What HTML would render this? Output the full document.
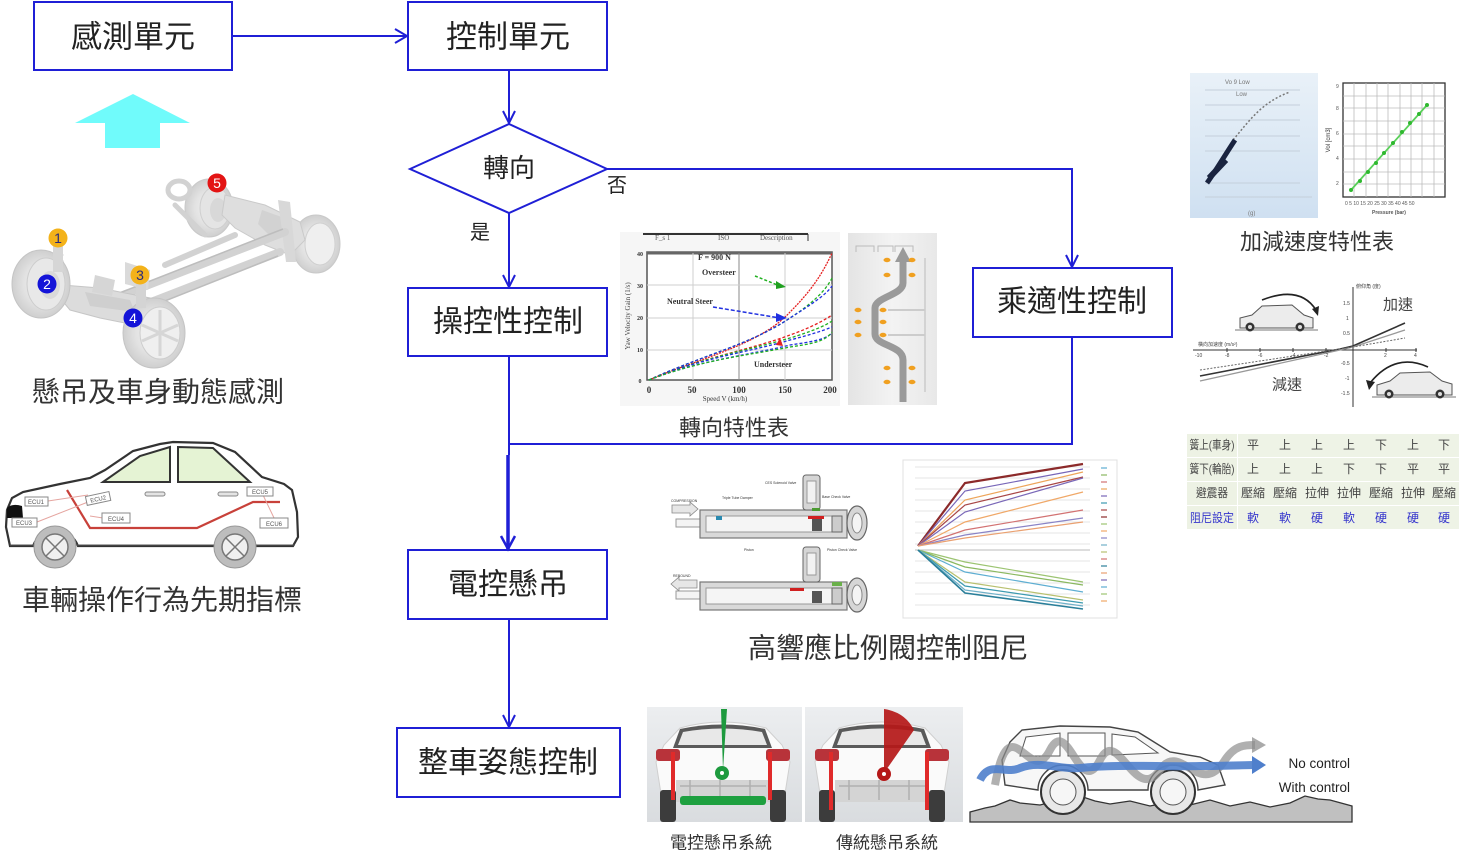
<!DOCTYPE html>
<html>
<head>
<meta charset="utf-8">
<style>
  html,body{margin:0;padding:0;background:#ffffff;}
  body{width:1478px;height:865px;overflow:hidden;}
  svg{display:block;}
  .cjk{font-family:"Liberation Sans","Noto Sans CJK TC","Noto Sans CJK SC",sans-serif;}
  .lat{font-family:"Liberation Sans",sans-serif;}
  .ser{font-family:"Liberation Serif",serif;}
</style>
</head>
<body>
<svg width="1478" height="865" viewBox="0 0 1478 865" xmlns="http://www.w3.org/2000/svg">
  <defs>
    <linearGradient id="accBg" x1="0" y1="0" x2="0" y2="1">
      <stop offset="0" stop-color="#e9f1f8"/>
      <stop offset="1" stop-color="#cfe0f1"/>
    </linearGradient>
    <linearGradient id="photoBg" x1="0" y1="0" x2="0" y2="1">
      <stop offset="0" stop-color="#eceef0"/>
      <stop offset="1" stop-color="#d9dcdf"/>
    </linearGradient>
    <linearGradient id="laneBg" x1="0" y1="0" x2="1" y2="0">
      <stop offset="0" stop-color="#e4e4e4"/>
      <stop offset="0.5" stop-color="#f3f3f3"/>
      <stop offset="1" stop-color="#e8e8e8"/>
    </linearGradient>
    <radialGradient id="wheel" cx="0.5" cy="0.5" r="0.5">
      <stop offset="0" stop-color="#f2f2f2"/>
      <stop offset="0.6" stop-color="#e2e2e2"/>
      <stop offset="1" stop-color="#cfcfcf"/>
    </radialGradient>
  </defs>

  <!-- ================= FLOWCHART ================= -->
  <g fill="none" stroke="#1f1fd6" stroke-width="2">
    <rect x="34" y="2" width="198" height="68"/>
    <rect x="408" y="2" width="199" height="68"/>
    <polygon points="410,169 509,124 607,169 509,213"/>
    <rect x="408" y="288" width="199" height="68"/>
    <rect x="973" y="268" width="199" height="69"/>
    <rect x="408" y="550" width="199" height="69"/>
    <rect x="397" y="728" width="223" height="69"/>

    <line x1="232" y1="36" x2="407" y2="36"/>
    <polyline points="395,29 407,36 395,43"/>
    <line x1="509" y1="70" x2="509" y2="123"/>
    <polyline points="503,111 509,123 515,111"/>
    <line x1="509" y1="213" x2="509" y2="287"/>
    <polyline points="503,275 509,287 515,275"/>
    <polyline points="607,169 1072,169 1072,267"/>
    <polyline points="1066,255 1072,267 1078,255"/>
    <polyline points="1072,337 1072,444 509,444"/>
    <line x1="509" y1="356" x2="509" y2="455"/>
    <line x1="508" y1="455" x2="508" y2="549" stroke-width="3.5"/>
    <polyline points="501,536 508,549 515,536" stroke-width="2.5"/>
    <line x1="509" y1="619" x2="509" y2="727"/>
    <polyline points="503,715 509,727 515,715"/>
  </g>

  <g class="cjk" fill="#222" text-anchor="middle" dominant-baseline="central">
    <text x="133" y="37" font-size="31">感測單元</text>
    <text x="508" y="37" font-size="31">控制單元</text>
    <text x="509" y="168" font-size="26">轉向</text>
    <text x="508" y="322" font-size="30">操控性控制</text>
    <text x="1072" y="302" font-size="30">乘適性控制</text>
    <text x="508" y="585" font-size="30">電控懸吊</text>
    <text x="508" y="763" font-size="30">整車姿態控制</text>
    <text x="480" y="233" font-size="20">是</text>
    <text x="617" y="186" font-size="20">否</text>

    <text x="158" y="392" font-size="28" fill="#333">懸吊及車身動態感測</text>
    <text x="162" y="600" font-size="28" fill="#333">車輛操作行為先期指標</text>
    <text x="734" y="428" font-size="22" fill="#333">轉向特性表</text>
    <text x="1317" y="242" font-size="22" fill="#333">加減速度特性表</text>
    <text x="888" y="648" font-size="28" fill="#333">高響應比例閥控制阻尼</text>
    <text x="721" y="843" font-size="17" fill="#333">電控懸吊系統</text>
    <text x="887" y="843" font-size="17" fill="#333">傳統懸吊系統</text>
  </g>

  <!-- cyan up arrow -->
  <polygon points="133,94 190,123 160,123 160,148 105,148 105,123 75,123" fill="#70fbfb"/>

  <!-- ================= CHASSIS ================= -->
  <g>
    <!-- rear left wheel -->
    <ellipse cx="209" cy="208" rx="24" ry="29" fill="url(#wheel)" stroke="#c9c9c9"/>
    <ellipse cx="215" cy="208" rx="15" ry="21" fill="#e4e4e4" stroke="#cfcfcf"/>
    <ellipse cx="218" cy="210" rx="8" ry="12" fill="#d8d8d8"/>
    <!-- rear right wheel -->
    <ellipse cx="316" cy="244" rx="24" ry="29" fill="url(#wheel)" stroke="#c9c9c9"/>
    <ellipse cx="320" cy="244" rx="15" ry="21" fill="#efefef" stroke="#d0d0d0"/>
    <!-- rear subframe / diff -->
    <polygon points="225,195 265,205 300,222 305,240 290,255 265,245 235,228 222,215" fill="#dedede" stroke="#cacaca"/>
    <polygon points="262,210 290,220 292,238 270,236 258,224" fill="#d2d2d2"/>
    <polygon points="278,200 290,202 296,262 286,262" fill="#d8d8d8"/>
    <!-- frame -->
    <g stroke="#d2d2d2" stroke-linecap="round" fill="none">
      <line x1="110" y1="300" x2="285" y2="232" stroke-width="8"/>
      <line x1="120" y1="314" x2="280" y2="252" stroke-width="8"/>
      <line x1="165" y1="265" x2="235" y2="235" stroke-width="6"/>
      <path d="M168,190 a11,9 0 1 0 22,0 a11,9 0 1 0 -22,0" stroke-width="5"/>
      <line x1="175" y1="205" x2="205" y2="235" stroke-width="5"/>
    </g>
    <g stroke="#bdbdbd" fill="none" stroke-width="1.5">
      <line x1="112" y1="296" x2="283" y2="229"/>
      <line x1="122" y1="318" x2="278" y2="256"/>
      <path d="M54,252 l8,3 l-8,3 l8,3 l-8,3 l8,3"/>
    </g>
    <!-- front subframe -->
    <polygon points="62,285 100,288 150,298 160,318 140,326 100,318 70,310 60,298" fill="#dcdcdc" stroke="#c6c6c6"/>
    <polygon points="85,292 130,300 135,312 90,306" fill="#cfcfcf"/>
    <polygon points="95,275 115,280 112,296 92,292" fill="#d6d6d6"/>
    <polygon points="125,262 150,270 148,290 125,284" fill="#dadada"/>
    <!-- front left wheel -->
    <ellipse cx="41" cy="284" rx="29" ry="34" fill="url(#wheel)" stroke="#c4c4c4"/>
    <ellipse cx="46" cy="284" rx="19" ry="26" fill="#e8e8e8" stroke="#cdcdcd"/>
    <ellipse cx="50" cy="285" rx="10" ry="14" fill="#d9d9d9"/>
    <rect x="53" y="246" width="10" height="26" fill="#d6d6d6"/>
    <!-- front right wheel -->
    <ellipse cx="154" cy="333" rx="31" ry="35" fill="url(#wheel)" stroke="#c4c4c4"/>
    <ellipse cx="160" cy="333" rx="20" ry="26" fill="#efefef" stroke="#cdcdcd"/>
    <g stroke="#d6d6d6" stroke-width="3">
      <line x1="160" y1="310" x2="160" y2="356"/>
      <line x1="142" y1="325" x2="178" y2="341"/>
      <line x1="142" y1="341" x2="178" y2="325"/>
    </g>
    <rect x="136" y="284" width="10" height="24" fill="#d4d4d4"/>
    <!-- markers -->
    <g class="cjk" font-size="14" text-anchor="middle" dominant-baseline="central">
      <circle cx="58" cy="238" r="9.5" fill="#f3b21a"/><text x="58" y="238" fill="#2a2a7a">1</text>
      <circle cx="47" cy="284" r="9.5" fill="#1414d8"/><text x="47" y="284" fill="#fff">2</text>
      <circle cx="140" cy="275" r="9.5" fill="#f3b21a"/><text x="140" y="275" fill="#2a2a7a">3</text>
      <circle cx="133" cy="318" r="9.5" fill="#1414d8"/><text x="133" y="318" fill="#fff">4</text>
      <circle cx="217" cy="183" r="9.5" fill="#e31414"/><text x="217" y="183" fill="#fff">5</text>
    </g>
  </g>

  <!-- ================= CAR WITH ECUs ================= -->
  <g>
    <path d="M6,527 L7,510 L12,498 L23,492 L60,484 L90,478 L105,470 L133,451 L160,444 L173,442 L213,443 L235,452 L262,477 L284,484 L292,490 L297,512 L298,537 L293,546 L256,546 A24,24 0 0 0 214,546 L78,546 A24,24 0 0 0 33,546 L10,546 Z" fill="#ffffff" stroke="#333" stroke-width="2.2"/>
    <polygon points="103,482 140,456 170,447 170,482" fill="#e5f3d4" stroke="#333" stroke-width="2"/>
    <polygon points="178,447 213,448 250,482 178,482" fill="#e5f3d4" stroke="#333" stroke-width="2"/>
    <line x1="10" y1="545" x2="295" y2="545" stroke="#555" stroke-width="1"/>
    <rect x="145" y="492" width="20" height="4" rx="2" fill="#e4e4e4" stroke="#888"/>
    <rect x="218" y="492" width="20" height="4" rx="2" fill="#e4e4e4" stroke="#888"/>
    <path d="M7,508 Q12,503 22,506 L23,518 L7,518 Z" fill="#111"/>
    <circle cx="55" cy="547" r="21" fill="#bdbdbd" stroke="#999"/>
    <circle cx="55" cy="547" r="13" fill="#f0f0f0" stroke="#777" stroke-width="1.5"/>
    <path d="M46,538 L64,556 M64,538 L46,556" stroke="#777" stroke-width="1.5"/>
    <circle cx="235" cy="547" r="21" fill="#bdbdbd" stroke="#999"/>
    <circle cx="235" cy="547" r="13" fill="#f0f0f0" stroke="#777" stroke-width="1.5"/>
    <path d="M226,538 L244,556 M244,538 L226,556" stroke="#777" stroke-width="1.5"/>
    <polyline points="67,490 90,528 197,528 253,502 280,502" fill="none" stroke="#c8413a" stroke-width="2.2"/>
    <g stroke="#e5a5a0" stroke-width="1" fill="none">
      <line x1="48" y1="501" x2="88" y2="495"/>
      <line x1="37" y1="522" x2="88" y2="502"/>
      <line x1="90" y1="516" x2="103" y2="518"/>
      <line x1="263" y1="495" x2="275" y2="520"/>
    </g>
    <g fill="#fff" stroke="#888" stroke-width="1">
      <rect x="25" y="497" width="23" height="9"/>
      <rect x="86" y="494" width="24" height="9" transform="rotate(-12 98 498)"/>
      <rect x="12" y="518" width="25" height="9"/>
      <rect x="102" y="513" width="28" height="10"/>
      <rect x="247" y="487" width="26" height="9"/>
      <rect x="260" y="518" width="28" height="10"/>
    </g>
    <g class="lat" font-size="6" fill="#555" text-anchor="middle">
      <text x="36" y="504">ECU1</text>
      <text x="98" y="501" transform="rotate(-12 98 498)">ECU2</text>
      <text x="24" y="525">ECU3</text>
      <text x="116" y="521">ECU4</text>
      <text x="260" y="494">ECU5</text>
      <text x="274" y="526">ECU6</text>
    </g>
  </g>

  <!-- ================= STEERING CHART ================= -->
  <g>
    <rect x="620" y="232" width="220" height="174" fill="#f6f6f6"/>
    <rect x="647" y="252" width="185" height="128" fill="#ffffff" stroke="#555" stroke-width="1.5"/>
    <line x1="643" y1="234" x2="808" y2="234" stroke="#333" stroke-width="2"/>
    <line x1="808" y1="234" x2="808" y2="241" stroke="#333"/>
    <line x1="647" y1="253" x2="832" y2="253" stroke="#666" stroke-width="3"/>
    <g stroke="#cfcfcf" stroke-width="1">
      <line x1="693" y1="253" x2="693" y2="380"/>
      <line x1="739" y1="253" x2="739" y2="380" stroke="#888"/>
      <line x1="785" y1="253" x2="785" y2="380"/>
      <line x1="647" y1="285" x2="832" y2="285"/>
      <line x1="647" y1="318" x2="832" y2="318"/>
      <line x1="647" y1="350" x2="832" y2="350"/>
    </g>
    <g class="ser" font-size="7" fill="#555">
      <text x="655" y="240">F_s 1</text><text x="718" y="240">ISO</text><text x="760" y="240">Description</text>
    </g>
    <path d="M649,380 C700,358 760,345 790,312 C810,292 822,275 832,253" fill="none" stroke="#e52020" stroke-width="1.3" stroke-dasharray="2,1"/>
    <path d="M649,380 C700,356 750,345 790,318 C810,305 825,292 832,278" fill="none" stroke="#20b020" stroke-width="1.3" stroke-dasharray="3,2"/>
    <path d="M649,380 C700,356 750,345 790,318 C810,305 825,296 832,286" fill="none" stroke="#2030e0" stroke-width="1.3" stroke-dasharray="3,2"/>
    <path d="M649,380 C700,358 750,350 790,335 C810,328 825,320 832,315" fill="none" stroke="#e52020" stroke-width="1.3" stroke-dasharray="3,2"/>
    <path d="M649,380 C700,358 750,350 790,338 C810,332 825,326 832,321" fill="none" stroke="#20b020" stroke-width="1.3" stroke-dasharray="3,2"/>
    <path d="M649,380 C700,358 750,352 790,340 C810,335 825,330 832,327" fill="none" stroke="#2030e0" stroke-width="1.3" stroke-dasharray="3,2"/>
    <path d="M649,380 C700,360 750,355 790,345 C810,342 825,340 832,333" fill="none" stroke="#2030e0" stroke-width="1.3" stroke-dasharray="3,2"/>
    <path d="M649,380 C700,360 750,355 790,347 C810,344 825,342 832,332" fill="none" stroke="#20b020" stroke-width="1.3" stroke-dasharray="3,2"/>
    <line x1="755" y1="276" x2="780" y2="286" stroke="#20b020" stroke-width="1.5" stroke-dasharray="3,2"/>
    <polygon points="776,281 786,287 776,289" fill="#20a020"/>
    <line x1="713" y1="307" x2="780" y2="318" stroke="#2030e0" stroke-width="1.5" stroke-dasharray="4,2"/>
    <polygon points="776,313 787,318 776,322" fill="#2030e0"/>
    <polygon points="776,345 780,338 783,346" fill="#e52020"/>
    <g class="ser" font-size="8" font-weight="bold" fill="#333">
      <text x="698" y="260">F  = 900 N</text>
      <text x="702" y="275">Oversteer</text>
      <text x="667" y="304">Neutral Steer</text>
      <text x="754" y="367">Understeer</text>
    </g>
    <g class="ser" font-size="9" fill="#333" text-anchor="middle" font-weight="bold">
      <text x="649" y="393">0</text><text x="692" y="393">50</text><text x="739" y="393">100</text><text x="785" y="393">150</text><text x="830" y="393">200</text>
      <text x="725" y="401" font-size="7" font-weight="normal">Speed V (km/h)</text>
      <text x="640" y="383" font-size="6">0</text><text x="640" y="352" font-size="6">10</text><text x="640" y="320" font-size="6">20</text><text x="640" y="288" font-size="6">30</text><text x="640" y="256" font-size="6">40</text>
    </g>
    <text x="630" y="316" class="ser" font-size="7" fill="#444" transform="rotate(-90 630 316)" text-anchor="middle">Yaw Velocity Gain (1/s)</text>
  </g>

  <!-- lane change -->
  <g>
    <rect x="848" y="233" width="89" height="172" fill="url(#laneBg)"/>
    <path d="M903,402 L903,360 C903,345 875,346 875,334 L875,308 C875,297 903,295 903,283 L903,260" fill="none" stroke="#9a9a9a" stroke-width="7"/>
    <polygon points="895,262 903,247 911,262" fill="#9a9a9a"/>
    <g fill="#f0a020">
      <ellipse cx="887" cy="260" rx="3.5" ry="2.2"/><ellipse cx="912" cy="260" rx="3.5" ry="2.2"/>
      <ellipse cx="887" cy="275" rx="3.5" ry="2.2"/><ellipse cx="912" cy="275" rx="3.5" ry="2.2"/>
      <ellipse cx="858" cy="310" rx="3.5" ry="2.2"/><ellipse cx="883" cy="310" rx="3.5" ry="2.2"/>
      <ellipse cx="858" cy="322" rx="3.5" ry="2.2"/><ellipse cx="883" cy="322" rx="3.5" ry="2.2"/>
      <ellipse cx="858" cy="335" rx="3.5" ry="2.2"/><ellipse cx="883" cy="335" rx="3.5" ry="2.2"/>
      <ellipse cx="887" cy="368" rx="3.5" ry="2.2"/><ellipse cx="912" cy="368" rx="3.5" ry="2.2"/>
      <ellipse cx="887" cy="382" rx="3.5" ry="2.2"/><ellipse cx="912" cy="382" rx="3.5" ry="2.2"/>
    </g>
    <g stroke="#bbb" stroke-width="1" fill="none">
      <polyline points="856,252 856,246 874,246 874,252"/>
      <polyline points="878,252 878,246 893,246 893,252"/>
      <polyline points="895,252 895,246 913,246 913,252"/>
      <line x1="925" y1="258" x2="925" y2="392"/>
      <line x1="888" y1="310" x2="925" y2="310" stroke="#ccc" stroke-width="2"/>
      <line x1="888" y1="335" x2="925" y2="335" stroke="#ccc" stroke-width="2"/>
    </g>
  </g>

  <!-- ================= ACCEL CHARTS ================= -->
  <g>
    <rect x="1190" y="73" width="128" height="145" fill="url(#accBg)"/>
    <g stroke="#c4cfdb" stroke-width="1">
      <line x1="1205" y1="90" x2="1300" y2="90"/>
      <line x1="1205" y1="105" x2="1300" y2="105"/>
      <line x1="1205" y1="120" x2="1300" y2="120"/>
      <line x1="1205" y1="136" x2="1300" y2="136"/>
      <line x1="1205" y1="151" x2="1300" y2="151"/>
      <line x1="1205" y1="183" x2="1300" y2="183"/>
      <line x1="1205" y1="197" x2="1312" y2="197"/>
    </g>
    <path d="M1233,140 C1250,120 1262,102 1290,92" fill="none" stroke="#777" stroke-width="1.5" stroke-dasharray="2,2"/>
    <path d="M1207,183 C1215,172 1225,155 1235,140" fill="none" stroke="#1a2440" stroke-width="5"/>
    <path d="M1209,178 L1226,160" stroke="#1a2440" stroke-width="6"/>
    <g class="lat" font-size="6" fill="#777">
      <text x="1225" y="84">Vo 9 Low</text><text x="1236" y="96">Low</text>
      <text x="1248" y="215">(g)</text>
    </g>
    <rect x="1343" y="83" width="102" height="114" fill="#fff" stroke="#333" stroke-width="1.3"/>
    <g stroke="#bbb" stroke-width="0.8">
      <line x1="1354" y1="83" x2="1354" y2="197"/><line x1="1366" y1="83" x2="1366" y2="197"/>
      <line x1="1377" y1="83" x2="1377" y2="197"/><line x1="1388" y1="83" x2="1388" y2="197"/>
      <line x1="1400" y1="83" x2="1400" y2="197"/><line x1="1411" y1="83" x2="1411" y2="197"/>
      <line x1="1422" y1="83" x2="1422" y2="197"/><line x1="1434" y1="83" x2="1434" y2="197"/>
      <line x1="1343" y1="96" x2="1445" y2="96"/><line x1="1343" y1="108" x2="1445" y2="108"/>
      <line x1="1343" y1="121" x2="1445" y2="121"/><line x1="1343" y1="134" x2="1445" y2="134"/>
      <line x1="1343" y1="146" x2="1445" y2="146"/><line x1="1343" y1="159" x2="1445" y2="159"/>
      <line x1="1343" y1="172" x2="1445" y2="172"/><line x1="1343" y1="184" x2="1445" y2="184"/>
    </g>
    <line x1="1351" y1="190" x2="1427" y2="105" stroke="#5ad05a" stroke-width="1.8"/>
    <g fill="#2fb82f">
      <circle cx="1351" cy="190" r="2"/><circle cx="1360" cy="181" r="2"/><circle cx="1368" cy="172" r="2"/>
      <circle cx="1376" cy="163" r="2"/><circle cx="1384" cy="153" r="2"/><circle cx="1393" cy="143" r="2"/>
      <circle cx="1402" cy="132" r="2"/><circle cx="1410" cy="123" r="2"/><circle cx="1419" cy="114" r="2"/><circle cx="1427" cy="105" r="2"/>
    </g>
    <g class="lat" font-size="5" fill="#555">
      <text x="1336" y="88">9</text><text x="1336" y="110">8</text><text x="1336" y="135">6</text><text x="1336" y="160">4</text><text x="1336" y="185">2</text>
      <text x="1345" y="205">0  5  10 15 20 25 30 35 40 45 50</text>
      <text x="1372" y="214" font-weight="bold">Pressure (bar)</text>
    </g>
    <text x="1330" y="140" class="lat" font-size="6" fill="#333" transform="rotate(-90 1330 140)" text-anchor="middle">Vol [cm3]</text>
  </g>

  <!-- ================= PITCH CHART ================= -->
  <g>
    <line x1="1193" y1="350" x2="1417" y2="350" stroke="#333" stroke-width="1"/>
    <line x1="1353" y1="287" x2="1353" y2="407" stroke="#333" stroke-width="1"/>
    <g stroke="#333" stroke-width="1">
      <line x1="1227" y1="348" x2="1227" y2="352"/><line x1="1260" y1="348" x2="1260" y2="352"/>
      <line x1="1293" y1="348" x2="1293" y2="352"/><line x1="1326" y1="348" x2="1326" y2="352"/>
      <line x1="1386" y1="348" x2="1386" y2="352"/><line x1="1416" y1="348" x2="1416" y2="352"/>
    </g>
    <path d="M1200,376 L1340,349 L1353,346 L1405,323" fill="none" stroke="#333" stroke-width="1.6"/>
    <path d="M1200,381 L1340,350 L1353,347 L1405,330" fill="none" stroke="#999" stroke-width="1.3"/>
    <path d="M1200,370 L1340,349 L1353,347 L1405,338" fill="none" stroke="#666" stroke-width="1" stroke-dasharray="2,1.5"/>
    <g class="lat" font-size="5" fill="#444">
      <text x="1198" y="346">橫向加速度 (m/s²)</text>
      <text x="1356" y="288">俯仰角 (度)</text>
      <text x="1343" y="305">1.5</text><text x="1346" y="320">1</text><text x="1343" y="335">0.5</text>
      <text x="1341" y="365">-0.5</text><text x="1345" y="380">-1</text><text x="1341" y="395">-1.5</text>
      <text x="1195" y="357">-10</text><text x="1225" y="357">-8</text><text x="1258" y="357">-6</text>
      <text x="1291" y="357">-4</text><text x="1324" y="357">-2</text><text x="1384" y="357">2</text><text x="1414" y="357">4</text>
    </g>
    <path d="M1240,328 L1240,318 L1252,315 L1262,306 L1292,305 L1304,315 L1313,318 L1313,328 Z" fill="#ececec" stroke="#555" stroke-width="1"/>
    <line x1="1235" y1="330" x2="1318" y2="330" stroke="#777"/>
    <circle cx="1250" cy="327" r="4.5" fill="#333"/><circle cx="1300" cy="327" r="4.5" fill="#333"/>
    <circle cx="1250" cy="327" r="2" fill="#ddd"/><circle cx="1300" cy="327" r="2" fill="#ddd"/>
    <path d="M1262,300 Q1300,285 1316,310" fill="none" stroke="#222" stroke-width="1.6"/>
    <polygon points="1312,309 1318,316 1319,306" fill="#222"/>
    <path d="M1377,395 L1377,385 L1390,381 L1400,373 L1430,372 L1442,381 L1452,384 L1452,395 Z" fill="#ececec" stroke="#555" stroke-width="1"/>
    <line x1="1372" y1="397" x2="1456" y2="397" stroke="#777"/>
    <circle cx="1389" cy="394" r="4.5" fill="#333"/><circle cx="1440" cy="394" r="4.5" fill="#333"/>
    <circle cx="1389" cy="394" r="2" fill="#ddd"/><circle cx="1440" cy="394" r="2" fill="#ddd"/>
    <path d="M1428,367 Q1395,352 1370,383" fill="none" stroke="#222" stroke-width="1.6"/>
    <polygon points="1366,380 1369,390 1375,382" fill="#222"/>
    <g class="cjk" font-size="15" fill="#444" text-anchor="middle" dominant-baseline="central">
      <text x="1398" y="305">加速</text>
      <text x="1287" y="385">減速</text>
    </g>
  </g>

  <!-- ================= TABLE ================= -->
  <g>
    <rect x="1187" y="433" width="272" height="97" fill="#ffffff"/>
    <g fill="#edf2e4">
      <rect x="1187" y="434" width="50" height="23"/>
      <rect x="1187" y="458" width="50" height="23"/>
      <rect x="1187" y="482" width="50" height="23"/>
      <rect x="1187" y="506" width="50" height="23"/>
    </g>
    <g fill="#eef3e6">
      <rect x="1238" y="434" width="221" height="23"/>
      <rect x="1238" y="458" width="221" height="23"/>
      <rect x="1238" y="482" width="221" height="23"/>
      <rect x="1238" y="506" width="221" height="23"/>
    </g>
    <g class="cjk" font-size="12" text-anchor="middle" dominant-baseline="central" fill="#444">
      <text x="1212" y="445" textLength="45" lengthAdjust="spacingAndGlyphs">簧上(車身)</text>
      <text x="1253" y="445">平</text><text x="1285" y="445">上</text><text x="1317" y="445">上</text><text x="1349" y="445">上</text><text x="1381" y="445">下</text><text x="1413" y="445">上</text><text x="1444" y="445">下</text>
      <text x="1212" y="469" textLength="45" lengthAdjust="spacingAndGlyphs">簧下(輪胎)</text>
      <text x="1253" y="469">上</text><text x="1285" y="469">上</text><text x="1317" y="469">上</text><text x="1349" y="469">下</text><text x="1381" y="469">下</text><text x="1413" y="469">平</text><text x="1444" y="469">平</text>
      <text x="1212" y="493" textLength="32" lengthAdjust="spacingAndGlyphs">避震器</text>
      <g textLength="24">
      <text x="1253" y="493" textLength="24" lengthAdjust="spacingAndGlyphs">壓縮</text><text x="1285" y="493" textLength="24" lengthAdjust="spacingAndGlyphs">壓縮</text><text x="1317" y="493" textLength="24" lengthAdjust="spacingAndGlyphs">拉伸</text><text x="1349" y="493" textLength="24" lengthAdjust="spacingAndGlyphs">拉伸</text><text x="1381" y="493" textLength="24" lengthAdjust="spacingAndGlyphs">壓縮</text><text x="1413" y="493" textLength="24" lengthAdjust="spacingAndGlyphs">拉伸</text><text x="1444" y="493" textLength="24" lengthAdjust="spacingAndGlyphs">壓縮</text>
      </g>
      <g fill="#3434cc">
        <text x="1212" y="518" textLength="44" lengthAdjust="spacingAndGlyphs">阻尼設定</text>
        <text x="1253" y="518">軟</text><text x="1285" y="518">軟</text><text x="1317" y="518">硬</text><text x="1349" y="518">軟</text><text x="1381" y="518">硬</text><text x="1413" y="518">硬</text><text x="1444" y="518">硬</text>
      </g>
    </g>
  </g>

  <!-- ================= DAMPER ================= -->
  <g>
    <polygon points="672,505 690,505 690,502 698,509 690,516 690,513 672,513" fill="#e6e6e6" stroke="#888" stroke-width="0.8"/>
    <rect x="676" y="519" width="26" height="8" fill="#f4f4f4" stroke="#999"/>
    <rect x="700" y="510" width="147" height="28" fill="#d9d9d9" stroke="#777" stroke-width="1.2"/>
    <rect x="706" y="516" width="135" height="16" fill="#f5f5f5" stroke="#999"/>
    <rect x="803" y="475" width="17" height="35" rx="3" fill="#d5d5d5" stroke="#666"/>
    <rect x="807" y="481" width="9" height="22" fill="#f2f2f2" stroke="#999"/>
    <rect x="812" y="519" width="10" height="12" fill="#555"/>
    <rect x="808" y="516" width="16" height="3" fill="#d02020"/>
    <ellipse cx="857" cy="523" rx="10" ry="17" fill="#d6d6d6" stroke="#666" stroke-width="1.2"/>
    <ellipse cx="857" cy="523" rx="5" ry="10" fill="#f4f4f4" stroke="#888"/>
    <rect x="832" y="516" width="10" height="16" fill="#ccc" stroke="#666"/>
    <rect x="716" y="516" width="6" height="4" fill="#2a8ab0"/>
    <rect x="812" y="508" width="8" height="3" fill="#4a9a30"/>
    <polygon points="697,580 679,580 679,577 671,584 679,591 679,588 697,588" fill="#e6e6e6" stroke="#888" stroke-width="0.8"/>
    <rect x="676" y="591" width="26" height="8" fill="#f4f4f4" stroke="#999"/>
    <rect x="700" y="582" width="147" height="28" fill="#d9d9d9" stroke="#777" stroke-width="1.2"/>
    <rect x="706" y="588" width="135" height="16" fill="#f5f5f5" stroke="#999"/>
    <rect x="803" y="547" width="17" height="35" rx="3" fill="#d5d5d5" stroke="#666"/>
    <rect x="807" y="553" width="9" height="22" fill="#f2f2f2" stroke="#999"/>
    <rect x="812" y="591" width="10" height="12" fill="#555"/>
    <rect x="790" y="588" width="14" height="3" fill="#d02020"/>
    <ellipse cx="857" cy="595" rx="10" ry="17" fill="#d6d6d6" stroke="#666" stroke-width="1.2"/>
    <ellipse cx="857" cy="595" rx="5" ry="10" fill="#f4f4f4" stroke="#888"/>
    <rect x="832" y="588" width="10" height="16" fill="#ccc" stroke="#666"/>
    <rect x="832" y="582" width="10" height="4" fill="#6ab04a"/>
    <g class="lat" font-size="3.5" fill="#333">
      <text x="671" y="502">COMPRESSION</text>
      <text x="765" y="484">CES Solenoid Valve</text>
      <text x="722" y="499">Triple Tube Damper</text>
      <text x="822" y="498">Base Check Valve</text>
      <text x="744" y="551">Piston</text>
      <text x="827" y="551">Piston Check Valve</text>
      <text x="673" y="577">REBOUND</text>
    </g>
  </g>

  <!-- ================= LINE CHART ================= -->
  <g>
    <rect x="903" y="460" width="214" height="158" fill="#fff" stroke="#e0e0e0"/>
    <g stroke="#e6e6e6" stroke-width="1">
      <line x1="915" y1="467" x2="1090" y2="467"/><line x1="915" y1="478" x2="1090" y2="478"/>
      <line x1="915" y1="489" x2="1090" y2="489"/><line x1="915" y1="500" x2="1090" y2="500"/>
      <line x1="915" y1="511" x2="1090" y2="511"/><line x1="915" y1="522" x2="1090" y2="522"/>
      <line x1="915" y1="533" x2="1090" y2="533"/><line x1="915" y1="544" x2="1090" y2="544"/>
      <line x1="915" y1="561" x2="1090" y2="561"/><line x1="915" y1="572" x2="1090" y2="572"/>
      <line x1="915" y1="583" x2="1090" y2="583"/><line x1="915" y1="594" x2="1090" y2="594"/>
      <line x1="915" y1="605" x2="1090" y2="605"/>
    </g>
    <line x1="915" y1="550" x2="1090" y2="550" stroke="#bbb"/>
    <g fill="none" stroke-width="1.2">
      <polyline points="918,546 965,483 1083,464" stroke="#8c2a2a" stroke-width="2.2"/>
      <polyline points="918,546 965,491 1083,469" stroke="#7766b8"/>
      <polyline points="918,546 965,500 1083,472" stroke="#eda55a"/>
      <polyline points="918,546 965,505 1083,477" stroke="#a84646"/>
      <polyline points="918,546 965,512 1083,478" stroke="#7a68b8"/>
      <polyline points="918,546 965,522 1083,492" stroke="#f0a868"/>
      <polyline points="918,546 965,530 1083,510" stroke="#d27272"/>
      <polyline points="918,546 965,535 1083,518" stroke="#8a84c6"/>
      <polyline points="918,546 965,538 1083,522" stroke="#eaa070"/>
      <polyline points="918,550 965,562 1083,582" stroke="#9cc472"/>
      <polyline points="918,550 965,567 1083,585" stroke="#8ab860"/>
      <polyline points="918,550 965,572 1083,592" stroke="#5eaed2"/>
      <polyline points="918,550 965,582 1083,600" stroke="#b8c070"/>
      <polyline points="918,550 965,586 1083,603" stroke="#3c9ab0"/>
      <polyline points="918,550 965,590 1083,606" stroke="#70b0c8"/>
      <polyline points="918,550 965,593 1083,609" stroke="#2a7f9a" stroke-width="1.6"/>
    </g>
    <g stroke-width="1.2">
      <line x1="1101" y1="468" x2="1107" y2="468" stroke="#5eaed2"/>
      <line x1="1101" y1="475" x2="1107" y2="475" stroke="#8ab860"/>
      <line x1="1101" y1="482" x2="1107" y2="482" stroke="#d27272"/>
      <line x1="1101" y1="489" x2="1107" y2="489" stroke="#eda55a"/>
      <line x1="1101" y1="496" x2="1107" y2="496" stroke="#7766b8"/>
      <line x1="1101" y1="503" x2="1107" y2="503" stroke="#3c9ab0"/>
      <line x1="1101" y1="510" x2="1107" y2="510" stroke="#a84646"/>
      <line x1="1101" y1="517" x2="1107" y2="517" stroke="#8c2a2a"/>
      <line x1="1101" y1="524" x2="1107" y2="524" stroke="#9cc472"/>
      <line x1="1101" y1="531" x2="1107" y2="531" stroke="#f0a868"/>
      <line x1="1101" y1="538" x2="1107" y2="538" stroke="#8a84c6"/>
      <line x1="1101" y1="545" x2="1107" y2="545" stroke="#70b0c8"/>
      <line x1="1101" y1="552" x2="1107" y2="552" stroke="#b8c070"/>
      <line x1="1101" y1="559" x2="1107" y2="559" stroke="#d27272"/>
      <line x1="1101" y1="566" x2="1107" y2="566" stroke="#2a7f9a"/>
      <line x1="1101" y1="573" x2="1107" y2="573" stroke="#eaa070"/>
      <line x1="1101" y1="580" x2="1107" y2="580" stroke="#7a68b8"/>
      <line x1="1101" y1="587" x2="1107" y2="587" stroke="#5eaed2"/>
      <line x1="1101" y1="594" x2="1107" y2="594" stroke="#9cc472"/>
      <line x1="1101" y1="601" x2="1107" y2="601" stroke="#f0a868"/>
    </g>
  </g>

  <!-- ================= BOTTOM PHOTOS ================= -->
  <g>
    <rect x="647" y="707" width="155" height="115" fill="url(#photoBg)"/>
    <path d="M662,800 L656,762 L664,745 L680,728 Q722,716 766,728 L782,745 L790,762 L784,800 Z" fill="#fafafa" stroke="#cfcfcf"/>
    <path d="M680,729 Q722,720 765,729 L772,748 L673,748 Z" fill="#5a5a5a"/>
    <path d="M683,732 Q722,725 762,732 L767,745 L678,745 Z" fill="#e8e8e8"/>
    <rect x="656" y="749" width="24" height="12" rx="3" fill="#b8333a"/>
    <rect x="766" y="749" width="24" height="12" rx="3" fill="#b8333a"/>
    <rect x="660" y="790" width="16" height="32" rx="3" fill="#3c3c3c"/>
    <rect x="770" y="790" width="16" height="32" rx="3" fill="#3c3c3c"/>
    <rect x="676" y="780" width="94" height="22" fill="#d4d4d4"/>
    <g stroke="#b0b0b0" stroke-width="1.5">
      <line x1="680" y1="786" x2="766" y2="786"/><line x1="690" y1="780" x2="690" y2="800"/><line x1="720" y1="780" x2="720" y2="800"/><line x1="750" y1="780" x2="750" y2="800"/>
    </g>
    <rect x="680" y="796" width="86" height="9" rx="3" fill="#1ea040"/>
    <rect x="671" y="752" width="4" height="48" fill="#e02a2a"/>
    <rect x="768" y="752" width="4" height="48" fill="#e02a2a"/>
    <polygon points="721,709 727,709 723,770" fill="#1d9a3e"/>
    <circle cx="722" cy="773" r="7" fill="#1d9a3e"/>
    <circle cx="722" cy="773" r="2" fill="#fff"/>
  </g>
  <g>
    <rect x="805" y="707" width="158" height="115" fill="url(#photoBg)"/>
    <path d="M821,800 L815,762 L823,745 L839,728 Q881,716 925,728 L941,745 L949,762 L943,800 Z" fill="#fafafa" stroke="#cfcfcf"/>
    <path d="M839,729 Q881,720 924,729 L931,748 L832,748 Z" fill="#5a5a5a"/>
    <path d="M842,732 Q881,725 921,732 L926,745 L837,745 Z" fill="#e8e8e8"/>
    <rect x="815" y="749" width="24" height="12" rx="3" fill="#b8333a"/>
    <rect x="925" y="749" width="24" height="12" rx="3" fill="#b8333a"/>
    <rect x="819" y="790" width="16" height="32" rx="3" fill="#3c3c3c"/>
    <rect x="929" y="790" width="16" height="32" rx="3" fill="#3c3c3c"/>
    <rect x="835" y="780" width="94" height="22" fill="#d4d4d4"/>
    <g stroke="#b0b0b0" stroke-width="1.5">
      <line x1="839" y1="786" x2="925" y2="786"/><line x1="849" y1="780" x2="849" y2="800"/><line x1="879" y1="780" x2="879" y2="800"/><line x1="909" y1="780" x2="909" y2="800"/>
    </g>
    <rect x="829" y="752" width="4" height="58" fill="#e02a2a"/>
    <rect x="925" y="752" width="4" height="58" fill="#e02a2a"/>
    <path d="M884,773 L884,709 Q905,712 914,730 Z" fill="#b51818" opacity="0.92"/>
    <circle cx="884" cy="774" r="7" fill="#b51818"/>
    <circle cx="884" cy="774" r="2" fill="#fff"/>
  </g>
  <g>
    <rect x="970" y="712" width="382" height="110" fill="#ffffff"/>
    <path d="M970,812 L985,808 L995,806 L1010,800 L1020,803 L1040,805 L1060,800 L1080,796 L1095,801 L1110,804 L1130,801 L1150,806 L1165,803 L1190,805 L1210,800 L1230,806 L1250,802 L1270,807 L1290,803 L1305,796 L1318,799 L1330,800 L1352,806 L1352,822 L970,822 Z" fill="#c0c0c0" stroke="#333" stroke-width="1.3"/>
    <path d="M1005,785 L1002,760 L1010,742 L1022,730 L1060,726 L1110,727 L1138,732 L1170,752 L1200,757 L1218,765 L1225,785 L1198,790 A25,25 0 0 0 1148,790 L1088,790 A25,25 0 0 0 1038,790 Z" fill="#f7f7f7" stroke="#444" stroke-width="1.4"/>
    <path d="M1026,737 L1060,733 L1060,756 L1020,756 Z" fill="#fff" stroke="#555"/>
    <path d="M1068,733 L1105,733 L1105,756 L1068,756 Z" fill="#fff" stroke="#555"/>
    <path d="M1112,734 L1135,737 L1158,753 L1112,755 Z" fill="#fff" stroke="#555"/>
    <circle cx="1063" cy="792" r="22" fill="#e8e8e8" stroke="#333" stroke-width="2"/>
    <circle cx="1063" cy="792" r="13" fill="#f6f6f6" stroke="#555"/>
    <circle cx="1173" cy="792" r="22" fill="#e8e8e8" stroke="#333" stroke-width="2"/>
    <circle cx="1173" cy="792" r="13" fill="#f6f6f6" stroke="#555"/>
    <path d="M995,785 C1010,700 1030,790 1050,750 C1068,715 1080,800 1100,760 C1118,725 1135,805 1160,770 C1180,740 1200,800 1225,760 C1235,745 1245,745 1255,745" fill="none" stroke="#8e8e8e" stroke-width="8" opacity="0.7"/>
    <polygon points="1252,737 1266,745 1252,753" fill="#8e8e8e" opacity="0.75"/>
    <path d="M980,780 C990,760 1005,775 1020,768 C1040,760 1060,770 1080,768 C1120,764 1160,767 1200,766 C1225,766 1245,765 1255,765" fill="none" stroke="#4f7fcc" stroke-width="8" opacity="0.9"/>
    <polygon points="1252,756 1266,765 1252,774" fill="#4f7fcc"/>
    <g class="lat" font-size="13.5" fill="#222" text-anchor="end">
      <text x="1350" y="768">No control</text>
      <text x="1350" y="792">With control</text>
    </g>
  </g>
</svg>
</body>
</html>
